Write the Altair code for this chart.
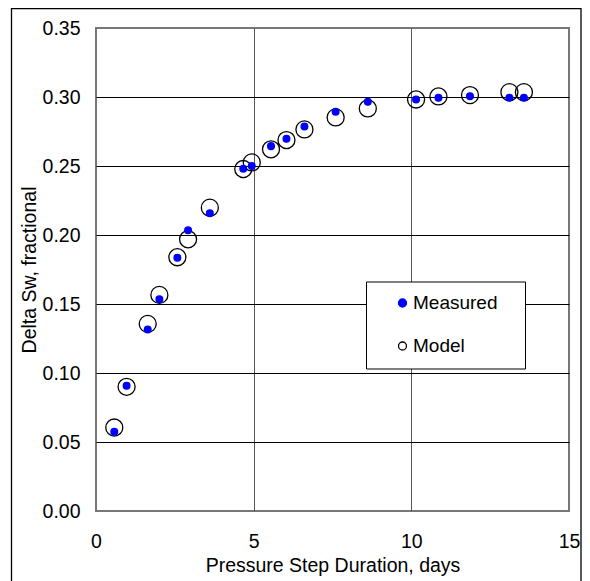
import altair as alt
import pandas as pd

# Data
duration_days = [0.58, 0.97, 1.64, 2.01, 2.58, 2.92, 3.61, 4.67, 4.94, 5.55,
                 6.04, 6.61, 7.60, 8.62, 10.15, 10.86, 11.86, 13.11, 13.57]
measured_sw = [0.0574, 0.0907, 0.1315, 0.1535, 0.1836, 0.2034, 0.2157, 0.2480, 0.2500, 0.2644,
               0.2697, 0.2787, 0.2893, 0.2965, 0.2982, 0.2994, 0.3006, 0.2994, 0.2994]
model_sw = [0.0605, 0.0900, 0.1356, 0.1566, 0.1839, 0.1969, 0.2198, 0.2478, 0.2526, 0.2621,
            0.2688, 0.2765, 0.2852, 0.2917, 0.2982, 0.3004, 0.3014, 0.3035, 0.3035]
series_names = ["Measured", "Model"]
x_ticks = [0, 5, 10, 15]
y_ticks = [0.0, 0.05, 0.10, 0.15, 0.20, 0.25, 0.30, 0.35]

rows = []
for x, y in zip(duration_days, model_sw):
    rows.append({"days": x, "sw": y, "series": "Model"})
for x, y in zip(duration_days, measured_sw):
    rows.append({"days": x, "sw": y, "series": "Measured"})
df = pd.DataFrame(rows)

FONT = "Liberation Sans"
FS = 19.5

# invisible right-side title only widens the legend box to the reference size
legend = alt.Legend(
    title=".", titleOrient="right", titleColor="#ffffff00", titleFontSize=19,
    titlePadding=10,
    orient="none", legendX=270, legendY=253.5,
    padding=12, fillColor="white", strokeColor="black",
    symbolType="circle", symbolSize=64, symbolStrokeWidth=1.3,
    labelFont=FONT, labelFontSize=19, labelColor="black",
    rowPadding=23, symbolOffset=15, labelOffset=1,
)

edge_test = "datum.value == 0 || datum.value == 15 || datum.value == 0.35"

points = alt.Chart(df).mark_point(filled=True, opacity=1, strokeWidth=1.3).encode(
    x=alt.X("days:Q", scale=alt.Scale(domain=[0, 15], nice=False),
            axis=alt.Axis(values=x_ticks, title="Pressure Step Duration, days",
                          gridColor="#555",
                          gridOpacity={"condition": {"test": edge_test, "value": 0}, "value": 1},
                          labelPadding=21, titlePadding=6)),
    y=alt.Y("sw:Q", scale=alt.Scale(domain=[0, 0.35], nice=False),
            axis=alt.Axis(values=y_ticks, format=".2f", title="Delta Sw, fractional",
                          gridColor="black",
                          gridOpacity={"condition": {"test": edge_test, "value": 0}, "value": 1},
                          labelPadding=16, titlePadding=3)),
    fill=alt.Fill("series:N", scale=alt.Scale(domain=series_names, range=["#0000ff", "#ffffff00"]),
                  legend=legend),
    stroke=alt.Stroke("series:N", scale=alt.Scale(domain=series_names, range=["#0000ff", "black"]),
                      legend=legend),
    size=alt.Size("series:N", scale=alt.Scale(range=[45, 290]), legend=None),
)

border = alt.Chart(pd.DataFrame({"a": [0]})).mark_rect(
    fill=None, stroke="black", strokeWidth=1.3, clip=False
).encode(
    x=alt.value(-84.5), x2=alt.value(485), y=alt.value(-19.5), y2=alt.value(570)
)

chart = alt.layer(border, points).properties(
    width=473, height=483,
    autosize=alt.AutoSizeParams(type="none"),
    padding={"left": 88, "top": 20, "right": 13, "bottom": 70},
).configure_view(
    stroke="#777", strokeWidth=2
).configure_axis(
    labelFont=FONT, labelFontSize=FS, labelColor="black", labelFlush=False,
    titleFont=FONT, titleFontSize=FS, titleColor="black", titleFontWeight="normal",
    ticks=False, domain=False, gridWidth=1,
)

chart.save("out.html", embed_options={"renderer": "svg", "actions": False})
